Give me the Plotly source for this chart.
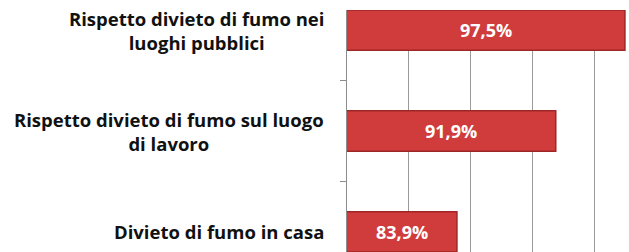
import plotly.graph_objects as go

categories = [
    "Rispetto divieto di fumo nei<br>luoghi pubblici",
    "Rispetto divieto di fumo sul luogo<br>di lavoro",
    "Divieto di fumo in casa",
]
values = [97.5, 91.9, 83.9]
value_labels = ["97,5%", "91,9%", "83,9%"]

X_MIN, X_MAX = 75, 97.83
FONT = "Open Sans"

fig = go.Figure()
fig.add_trace(go.Bar(
    y=categories,
    x=values,
    orientation="h",
    width=0.4,
    marker=dict(color="#D03C3C", line=dict(color="#9E2626", width=1.5)),
    hoverinfo="skip",
))

# value labels centred on the visible part of each bar
for c, v, t in zip(categories, values, value_labels):
    fig.add_annotation(
        xref="x", yref="y", x=(X_MIN + v) / 2, y=c, text=t, showarrow=False,
        xanchor="center", yanchor="middle",
        font=dict(family=FONT, size=18, color="white", weight="bold"),
    )

# category labels (centred multi-line, like the original)
for c in categories:
    fig.add_annotation(
        xref="paper", yref="y", x=0, y=c, xanchor="right", yanchor="middle",
        xshift=-21, text=c, showarrow=False, align="center",
        font=dict(family=FONT, size=18.5, color="#111111", weight="bold"),
    )

fig.update_layout(
    width=629, height=252,
    margin=dict(l=347, r=0, t=10, b=0),
    paper_bgcolor="white", plot_bgcolor="white",
    showlegend=False,
)
fig.update_xaxes(
    range=[X_MIN, X_MAX], tick0=X_MIN, dtick=5,
    showgrid=True, gridcolor="#9a9a9a", gridwidth=1,
    showticklabels=False, zeroline=False, showline=False, ticks="",
)
fig.update_yaxes(
    type="category", categoryorder="array", categoryarray=categories[::-1],
    range=[-0.2, 2.2], showticklabels=False, showgrid=False,
    showline=True, linecolor="#8c8c8c", linewidth=1,
    ticks="outside", tickson="boundaries", ticklen=6, tickcolor="#8c8c8c",
)

fig.write_html(
    "out.html",
    config={"displayModeBar": False},
    post_script="document.body.style.margin='0';",
)
